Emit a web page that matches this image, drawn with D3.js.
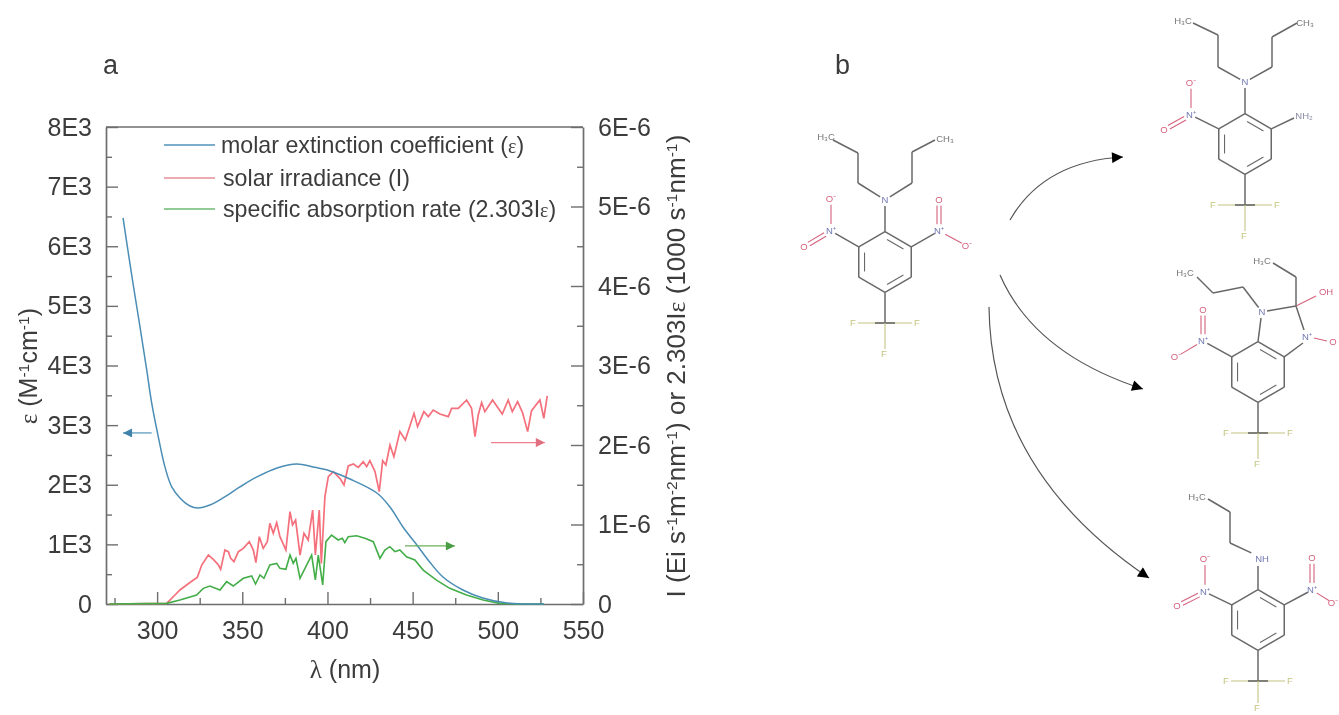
<!DOCTYPE html>
<html><head><meta charset="utf-8">
<script src="https://cdn.jsdelivr.net/npm/d3@7/dist/d3.min.js"></script>
<style>
html,body{margin:0;padding:0;background:#fff;overflow:hidden}
svg{display:block;filter:blur(0.75px)}
text{font-family:"Liberation Sans",Arial,sans-serif;fill:#3c3c3c}
.serif{font-family:"Liberation Serif","DejaVu Serif",serif}
</style></head><body>
<svg id="c" width="1339" height="715"></svg>
<script>
// ---------- DATA ----------
const epsNm=[280,285.8,290,293.9,296.8,300.7,304.6,308.6,313.4,319.3,324,331,338.7,348.6,358.6,370.4,382,391.5,401.5,413.2,429,436.7,444.3,452.5,460,467.8,479.5,491.2,505.3,517,527];
const epsVal=[6477,5386,4639,3926,3372,2802,2299,1963,1779,1644,1611,1661,1779,1963,2131,2282,2349,2299,2232,2097,1862,1627,1292,990,705,453,235,101,17,0,0];
const irrNm=[272,305.6,310.5,313.4,317.3,321.3,323.6,326.2,330.1,333,336,337.3,339.8,341.8,343.2,345.1,347.7,350.6,354.1,356.5,358,360,362.3,364.7,366.2,368.2,370.2,372.1,375.6,378,379.5,381.3,383.9,386.2,388.7,391.3,392.9,395.2,396.4,398.5,400.5,403.4,407.3,409.7,412.2,415.2,418.1,421,423,424.9,427.9,430.4,432.4,434.3,436.7,439,442.5,445.7,450.8,452.9,456.6,459.2,462.1,466,470.9,472.9,476.8,481.7,484.6,486.6,488.5,490.5,492.4,496.9,502.6,506.1,508.5,511.6,514.5,517.5,519.8,524.7,527,529];
const irrVal=[0,.008,.113,.176,.239,.302,.335,.49,.616,.562,.49,.436,.679,.658,.574,.532,.658,.7,.784,.679,.52,.847,.7,.784,1.014,.889,1.023,.847,.679,1.161,.994,1.056,.616,.889,.805,1.182,.616,1.182,.511,1.35,1.602,1.665,1.581,1.497,1.736,1.761,1.719,1.79,1.728,1.803,1.665,1.413,1.803,1.749,2,1.853,2.168,2.063,2.398,2.231,2.419,2.357,2.44,2.39,2.357,2.461,2.461,2.566,2.461,2.105,2.378,2.533,2.419,2.566,2.39,2.566,2.419,2.545,2.407,2.168,2.432,2.566,2.336,2.617];
const sarNm=[272,305.6,313.4,323.2,327.1,331,336.9,340.8,344.7,350.6,355.5,357.8,360.4,362.7,366.2,370.2,372.1,375.6,378,379.9,381.5,383.9,386.8,390.7,392.9,394.6,397.2,399.1,402.4,406.3,408.7,410.2,412.2,417.1,422,426.9,430.8,433.7,436.6,439.6,442.5,446.4,451.3,456.2,464,471.8,481.6,491.4,501.2,511,527];
const sarVal=[0,.008,.05,.113,.197,.226,.176,.281,.226,.323,.352,.251,.365,.323,.49,.511,.448,.436,.616,.511,.574,.323,.448,.616,.302,.616,.239,.784,.868,.805,.826,.771,.847,.859,.826,.784,.574,.679,.721,.658,.679,.595,.553,.427,.301,.197,.113,.05,.008,0,0];
const xTicks=[275,300,325,350,375,400,425,450,475,500,525,550];
const xLabels=[300,350,400,450,500,550];
const leftTicks=[0,500,1000,1500,2000,2500,3000,3500,4000,4500,5000,5500,6000,6500,7000,7500,8000];
const rightTicks=[0,.5,1,1.5,2,2.5,3,3.5,4,4.5,5,5.5,6];
const legendNames=["molar extinction coefficient (","solar irradiance (I)","specific absorption rate (2.303I"];
const colors={eps:"#4a8db5",irr:"#f4707c",sar:"#43ad48",axis:"#6e6e6e"};

// ---------- SCALES ----------
const svg=d3.select("#c");
const L=106,R=583,T=127,B=604;
const x=d3.scaleLinear([270,550],[L,R]);
const yL=d3.scaleLinear([0,8000],[B,T]);
const yR=d3.scaleLinear([0,6],[B,T]);

// ---------- AXES ----------
function style(g){
  g.selectAll("path").attr("stroke",colors.axis).attr("stroke-width",1.7);
  g.selectAll("line").attr("stroke",colors.axis).attr("stroke-width",1.4);
  g.selectAll("text").attr("font-size",25).attr("fill","#3c3c3c")
    .style("font-family",'"Liberation Sans",Arial,sans-serif');
}
const gx=svg.append("g").attr("transform",`translate(0,${B})`)
 .call(d3.axisBottom(x).tickValues(xTicks).tickSize(-12).tickSizeOuter(0).tickPadding(17)
  .tickFormat(d=>xLabels.includes(d)?d:""));
gx.selectAll(".tick line").attr("y2",d=>xLabels.includes(d)?-12:-6);
style(gx);
const gl=svg.append("g").attr("transform",`translate(${L},0)`)
 .call(d3.axisLeft(yL).tickValues(leftTicks).tickSize(-12).tickSizeOuter(0).tickPadding(14)
  .tickFormat(d=>d%1000?"":(d===0?"0":(d/1000)+"E3")));
gl.selectAll(".tick line").attr("x2",d=>d%1000?6:12);
style(gl);
const gr=svg.append("g").attr("transform",`translate(${R},0)`)
 .call(d3.axisRight(yR).tickValues(rightTicks).tickSize(-12).tickSizeOuter(0).tickPadding(15)
  .tickFormat(d=>d%1?"":(d===0?"0":d+"E-6")));
gr.selectAll(".tick line").attr("x2",d=>d%1?-6:-12);
style(gr);
svg.append("line").attr("x1",L).attr("x2",R).attr("y1",T).attr("y2",T).attr("stroke",colors.axis).attr("stroke-width",1.7);

// ---------- SERIES ----------
const lineOf=(xs,ys,sc,curve)=>d3.line().x((d,i)=>x(xs[i])).y((d,i)=>sc(ys[i])).curve(curve)(xs);
svg.append("path").attr("d",lineOf(irrNm,irrVal,yR,d3.curveLinear)).attr("fill","none").attr("stroke",colors.irr).attr("stroke-width",1.7);
svg.append("path").attr("d",lineOf(sarNm,sarVal,yR,d3.curveLinear)).attr("fill","none").attr("stroke",colors.sar).attr("stroke-width",1.6);
svg.append("path").attr("d",lineOf(epsNm,epsVal,yL,d3.curveCatmullRom)).attr("fill","none").attr("stroke",colors.eps).attr("stroke-width",1.5);

// ---------- SERIES ARROWS ----------
const defs=svg.append("defs");
function marker(id,c,w,h){
  defs.append("marker").attr("id",id).attr("viewBox","0 0 10 10").attr("refX",10).attr("refY",5)
   .attr("markerWidth",w).attr("markerHeight",h).attr("markerUnits","userSpaceOnUse").attr("orient","auto")
   .append("path").attr("d","M0,0L10,5L0,10Z").attr("fill",c);
}
marker("mb","#3f83ad",10,9);marker("mr","#e0707f",11,9);marker("mg","#4a9d45",11,9);marker("mk","#000",13,11);
[[296.8,280,2869,"#4f93bb","mb",yL],[496,527.6,2.03,"#ef8090","mr",yR],[445.5,474.8,.73,"#6ab05a","mg",yR]].forEach(a=>{
 svg.append("line").attr("x1",x(a[0])).attr("x2",x(a[1])).attr("y1",a[5](a[2])).attr("y2",a[5](a[2]))
  .attr("stroke",a[3]).attr("stroke-width",1.2).attr("marker-end",`url(#${a[4]})`);
});

// ---------- LEGEND ----------
const legY=[145,178,209],legC=["#4f93bb","#e58f96","#6cbb74"];
legendNames.forEach((n,i)=>{
 svg.append("line").attr("x1",164).attr("x2",215).attr("y1",legY[i]).attr("y2",legY[i]).attr("stroke",legC[i]).attr("stroke-width",1.3);
 const t=svg.append("text").attr("x",i?223:221).attr("y",legY[i]+7.5).attr("font-size",23.2);
 t.append("tspan").text(n);
 if(i!==1){t.append("tspan").attr("class","serif").attr("font-size",20).text("ε");t.append("tspan").text(")");}
});

// ---------- AXIS TITLES ----------
function sup(t,s){t.append("tspan").attr("font-size",15.5).attr("dy",-8).text(s);t.append("tspan").attr("font-size",1).attr("dy",8).text(" ");}
function parts(t,arr){arr.forEach(p=>{
  if(p[0]==="s")sup(t,p[1]);
  else if(p[0]==="e")t.append("tspan").attr("class","serif").text(p[1]);
  else t.append("tspan").text(p[1]);});}
const tl=svg.append("text").attr("transform","translate(37,366) rotate(-90)").attr("text-anchor","middle").attr("font-size",25);
parts(tl,[["e","ε"],["t"," (M"],["s","-1"],["t","cm"],["s","-1"],["t",")"]]);
const tr=svg.append("text").attr("transform","translate(685,366) rotate(-90)").attr("text-anchor","middle").attr("font-size",26);
parts(tr,[["t","I (Ei s"],["s","-1"],["t","m"],["s","-2"],["t","nm"],["s","-1"],["t",") or 2.303I"],["e","ε"],["t"," (1000 s"],["s","-1"],["t","nm"],["s","-1"],["t",")"]]);
const tx=svg.append("text").attr("x",345).attr("y",678).attr("text-anchor","middle").attr("font-size",25);
parts(tx,[["e","λ"],["t"," (nm)"]]);
svg.append("text").attr("x",103).attr("y",74).attr("font-size",27).text("a");
svg.append("text").attr("x",835).attr("y",74).attr("font-size",27).text("b");

// ---------- PANEL b: STRUCTURES ----------
const cO="#d4627e",cN="#7179b2",cF="#c4c482",cC="#686868";
const m=svg.append("g");
function bond(a,b,c=cC,w=1.5){m.append("line").attr("x1",a[0]).attr("y1",a[1]).attr("x2",b[0]).attr("y2",b[1]).attr("stroke",c).attr("stroke-width",w);}
function dbl(a,b,c){const dx=b[0]-a[0],dy=b[1]-a[1],l=Math.hypot(dx,dy),ox=-dy/l*2,oy=dx/l*2;
  bond([a[0]+ox,a[1]+oy],[b[0]+ox,b[1]+oy],c,1.1);bond([a[0]-ox,a[1]-oy],[b[0]-ox,b[1]-oy],c,1.1);}
function lab(s,p,c,fs=9.5){m.append("text").attr("x",p[0]).attr("y",p[1]+3.2).attr("text-anchor","middle").attr("font-size",fs).style("fill",c).text(s);}
function ring(cx,cy,fy=92){
  const r=30.3,p=d3.range(6).map(i=>[cx+r*Math.sin(i*Math.PI/3),cy-r*Math.cos(i*Math.PI/3)]);
  p.forEach((q,i)=>bond(q,p[(i+1)%6]));
  [[0,1],[2,3],[4,5]].forEach(([a,b])=>{
    const f=q=>[cx+(q[0]-cx)*.78,cy+(q[1]-cy)*.78];
    const A=f(p[a]),B=f(p[b]);bond([A[0]+(B[0]-A[0])*.1,A[1]+(B[1]-A[1])*.1],[B[0]-(B[0]-A[0])*.1,B[1]-(B[1]-A[1])*.1],cC,1.1);
  });
  bond(p[3],[cx,cy+61]);
  bond([cx-27,cy+61],[cx+27,cy+61],cF,1.1);bond([cx-10,cy+61],[cx+10,cy+61],cC,1.6);
  bond([cx,cy+61],[cx,cy+fy-5],cF,1.1);
  lab("F",[cx-32,cy+61],cF);lab("F",[cx+32,cy+61],cF);lab("F",[cx-1,cy+fy],cF);
  return p;
}
function nitro(from,n,o1,o2,o1dbl){
  bond(from,[n[0]+(from[0]-n[0])*.15,n[1]+(from[1]-n[1])*.15]);
  const t=(a,b)=>[a[0]+(b[0]-a[0])*.22,a[1]+(b[1]-a[1])*.22];
  const tr2=(a,b)=>[b[0]+(a[0]-b[0])*.18,b[1]+(a[1]-b[1])*.18];
  if(o1dbl){dbl(t(n,o1),tr2(n,o1),cO);bond(t(n,o2),tr2(n,o2),cO,1.1);}
  else{bond(t(n,o1),tr2(n,o1),cO,1.1);dbl(t(n,o2),tr2(n,o2),cO);}
  lab("N⁺",n,cN);lab(o1dbl?"O":"O⁻",o1,cO);lab(o1dbl?"O⁻":"O",o2,cO);
}
function chain(n,pts,label,lp){
  const first=[n[0]+(pts[0][0]-n[0])*.18,n[1]+(pts[0][1]-n[1])*.18];
  bond(first,pts[0]);pts.forEach((q,i)=>{if(i)bond(pts[i-1],q);});
  lab(label,lp,"#777");
}
// parent molecule
(function(){
  const p=ring(885,262);
  bond(p[0],[885,206]);lab("N",[885,200],cN);
  chain([885,200],[[858,183],[858,153],[833,140]],"H₃C",[826,137]);
  chain([885,200],[[912,183],[912,152],[935,140]],"CH₃",[945,139]);
  nitro(p[5],[831,231],[831,199],[804,247],false);
  nitro(p[1],[939,231],[939,200],[967,246],true);
})();
// product 1
(function(){
  const p=ring(1245,144);
  bond(p[0],[1245,88]);lab("N",[1245,82],cN);
  chain([1245,82],[[1218,67],[1218,35],[1193,23]],"H₃C",[1183,21]);
  chain([1245,82],[[1272,67],[1272,37],[1297,23]],"CH₃",[1305,23]);
  nitro(p[5],[1191,115],[1191,83],[1164,130],false);
  bond(p[1],[1294,118]);lab("NH₂",[1304,116],"#8a8aa4");
})();
// product 2
(function(){
  const p=ring(1258,372);
  bond(p[0],[1261,318]);lab("N",[1262,312],cN);
  bond([1267,311],[1296,306]);
  bond([1296,306],[1304,330]);lab("N⁺",[1307,337],cN);
  bond([1303,343],p[1]);
  bond([1314,338],[1327,341],cO,1.1);lab("O",[1333,342],cO);
  bond([1296,306],[1316,296],cO,1.1);lab("OH",[1326,292],cO);
  bond([1296,306],[1296,277]);bond([1296,277],[1273,263]);lab("H₃C",[1262,261],"#777");
  chain([1262,312],[[1243,287],[1213,293],[1197,277]],"H₃C",[1185,273]);
  nitro(p[5],[1203,341],[1203,310],[1176,357],true);
})();
// product 3
(function(){
  const p=ring(1258,620,88);
  bond(p[0],[1258,566]);lab("NH",[1262,559],cN);
  chain([1256,555],[[1230,543],[1230,512],[1208,499]],"H₃C",[1197,497]);
  nitro(p[5],[1205,592],[1205,559],[1177,606],false);
  nitro(p[1],[1312,590],[1312,558],[1333,603],true);
})();
// reaction arrows
[[[1010,220],[1043.5,161.5],[1123,157]],[[1000,275],[1034.5,354],[1143,389]],[[989,307],[991,471.5],[1149,578]]].forEach(a=>{
  svg.append("path").attr("d",`M${a[0]}Q${a[1]} ${a[2]}`).attr("fill","none").attr("stroke","#555").attr("stroke-width",1.2).attr("marker-end","url(#mk)");
});
</script>
</body></html>
